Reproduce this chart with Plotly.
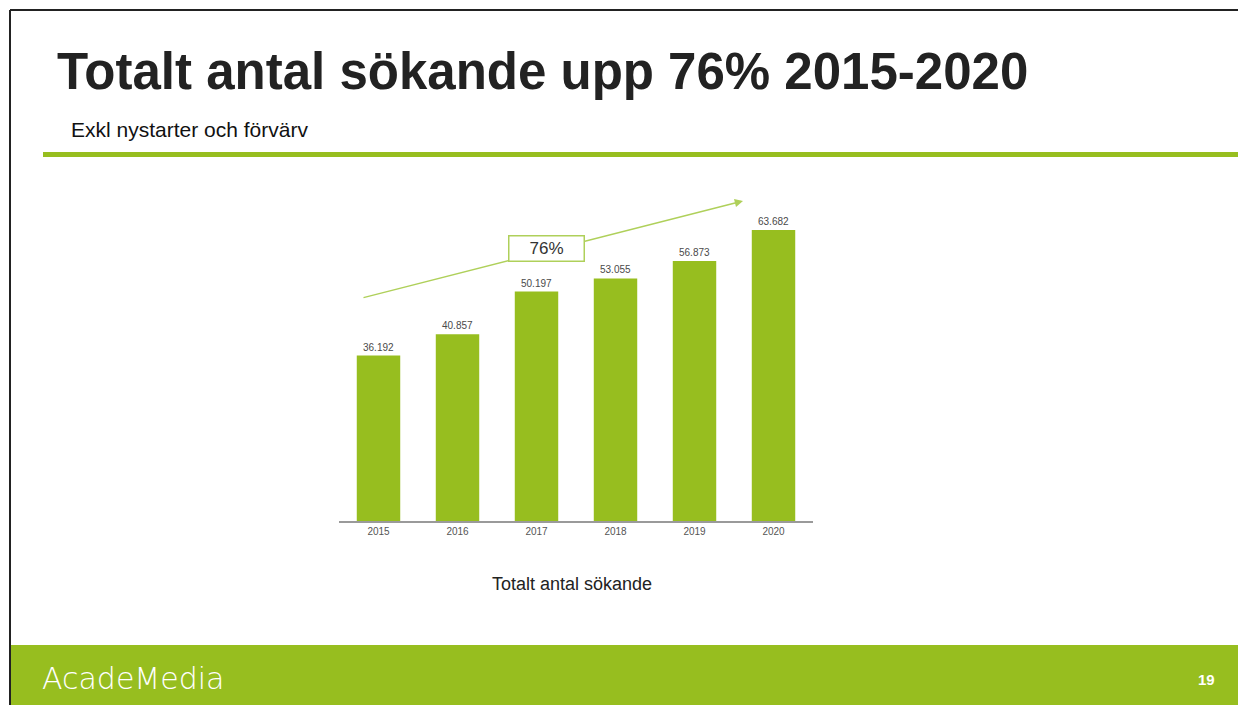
import plotly.graph_objects as go

W, H = 1238, 705

years = ["2015", "2016", "2017", "2018", "2019", "2020"]
sokande = [36192, 40857, 50197, 53055, 56873, 63682]

title = "Totalt antal sökande upp 76% 2015-2020"
subtitle = "Exkl nystarter och förvärv"
caption = "Totalt antal sökande"
growth_label = "76%"
page_no = "19"
brand = "AcadeMedia"

GREEN = "#97BE1F"
ARROW = "#AFD05A"
FONT = "Liberation Sans, Arial, sans-serif"


def px(x):
    return x / W


def py(y):
    return (H - y) / H


fig = go.Figure()
fig.add_trace(go.Bar(
    x=years, y=sokande,
    marker=dict(color=GREEN, line=dict(width=0)),
    texttemplate="%{y:,}", textposition="outside",
    textfont=dict(size=10, color="#4a4a4a", family=FONT),
    cliponaxis=False, hoverinfo="skip",
))

shapes = [
    # slide border top and left
    dict(type="line", xref="paper", yref="paper", x0=px(10), x1=1, y0=py(10), y1=py(10),
         line=dict(color="#222222", width=2)),
    dict(type="line", xref="paper", yref="paper", x0=px(10), x1=px(10), y0=0, y1=py(10),
         line=dict(color="#222222", width=2)),
    # green rule under subtitle
    dict(type="rect", xref="paper", yref="paper", x0=px(43), x1=1, y0=py(157), y1=py(152),
         fillcolor=GREEN, line=dict(width=0)),
    # footer band
    dict(type="rect", xref="paper", yref="paper", x0=px(11), x1=1, y0=0, y1=py(645),
         fillcolor=GREEN, line=dict(width=0)),
]

annotations = [
    dict(text=title, xref="paper", yref="paper", x=px(55), y=py(71), xanchor="left", yanchor="middle",
         showarrow=False, font=dict(size=51, color="#222222", family=FONT, weight="bold")),
    dict(text=subtitle, xref="paper", yref="paper", x=px(69), y=py(129), xanchor="left", yanchor="middle",
         showarrow=False, font=dict(size=21, color="#111111", family=FONT)),
    dict(text=caption, xref="paper", yref="paper", x=px(572), y=py(584), xanchor="center", yanchor="middle",
         showarrow=False, font=dict(size=18, color="#222222", family=FONT)),
    # growth arrow
    dict(text="", xref="paper", yref="paper", x=px(743), y=py(201), ax=362 - 743, ay=298 - 201,
         axref="pixel", ayref="pixel", showarrow=True, arrowhead=2, arrowsize=1.1, arrowwidth=1.5,
         arrowcolor=ARROW),
    dict(text=growth_label, xref="paper", yref="paper", x=px(546), y=py(249), xanchor="center", yanchor="middle",
         showarrow=False, font=dict(size=17, color="#333333", family=FONT),
         bgcolor="white", bordercolor=ARROW, borderwidth=1.5, width=72, height=22),
    dict(text=brand, xref="paper", yref="paper", x=px(40), y=py(678), xanchor="left", yanchor="middle",
         showarrow=False, font=dict(size=30, color="white", family="DejaVu Sans, sans-serif", weight=200)),
    dict(text=page_no, xref="paper", yref="paper", x=px(1217), y=py(679), xanchor="right", yanchor="middle",
         showarrow=False, font=dict(size=15, color="white", family=FONT, weight="bold")),
]

fig.update_layout(
    width=W, height=H,
    margin=dict(l=0, r=0, t=0, b=0),
    paper_bgcolor="white", plot_bgcolor="white",
    separators=",.",
    bargap=0.45,
    showlegend=False,
    shapes=shapes,
    annotations=annotations,
    xaxis=dict(domain=[px(339), px(813)], showline=True, linecolor="#9a9a9a", linewidth=1.5,
               ticks="", showgrid=False, tickfont=dict(size=10, color="#555555", family=FONT),
               fixedrange=True),
    yaxis=dict(domain=[py(521), py(201)], range=[0, 70000], visible=False, showgrid=False,
               fixedrange=True),
)

fig.write_html("out.html", config={"displayModeBar": False},
               post_script="document.body.style.margin='0';document.body.style.overflow='hidden';")
